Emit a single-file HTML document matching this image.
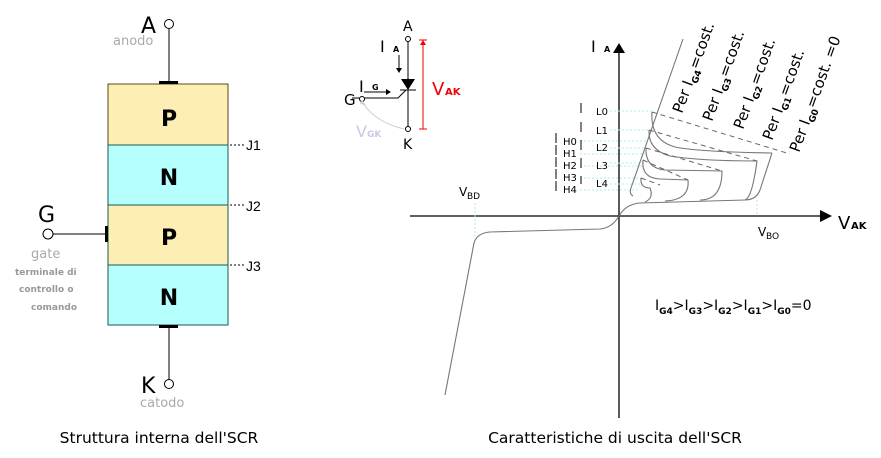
<!DOCTYPE html>
<html><head><meta charset="utf-8"><style>
html,body{margin:0;padding:0;background:#fff;}
svg{display:block;font-family:"DejaVu Sans","Liberation Sans",sans-serif;}
</style></head><body>
<svg width="881" height="458" viewBox="0 0 881 458" xmlns="http://www.w3.org/2000/svg">
<!-- LEFT -->
<rect x="108" y="84" width="120" height="61" fill="#fdeeb5" stroke="#5a4a10" stroke-width="1"/>
<rect x="108" y="145" width="120" height="60" fill="#b5ffff" stroke="#1a5a4a" stroke-width="1"/>
<rect x="108" y="205" width="120" height="60" fill="#fdeeb5" stroke="#1a5a4a" stroke-width="1"/>
<rect x="108" y="265" width="120" height="60" fill="#b5ffff" stroke="#1a5a4a" stroke-width="1"/>
<g font-weight="bold" font-size="22" text-anchor="middle" fill="#000">
<text x="169" y="126">P</text><text x="169" y="185">N</text><text x="169" y="245">P</text><text x="169" y="305">N</text></g>
<line x1="169" y1="29" x2="169" y2="82" stroke="#000"/>
<rect x="159" y="81" width="19" height="3" fill="#000"/>
<circle cx="169" cy="24" r="4.5" fill="#fff" stroke="#000"/>
<text x="141" y="33" font-size="22" fill="#000">A</text>
<text x="113" y="45" font-size="13" fill="#aaa">anodo</text>
<line x1="169" y1="328" x2="169" y2="380" stroke="#000"/>
<rect x="159" y="325" width="19" height="3" fill="#000"/>
<circle cx="169" cy="384" r="4.5" fill="#fff" stroke="#000"/>
<text x="141" y="393" font-size="22" fill="#000">K</text>
<text x="140" y="407" font-size="13" fill="#aaa">catodo</text>
<line x1="53" y1="234" x2="106" y2="234" stroke="#000"/>
<rect x="105" y="226" width="3" height="16" fill="#000"/>
<circle cx="48" cy="234" r="5" fill="#fff" stroke="#000"/>
<text x="38" y="222" font-size="22" fill="#000">G</text>
<text x="31" y="258" font-size="13" fill="#aaa">gate</text>
<g font-size="9" font-weight="bold" fill="#999">
<text x="15" y="275">terminale di</text><text x="19" y="292">controllo o</text><text x="31" y="310">comando</text></g>
<g stroke="#000" stroke-dasharray="2,2"><line x1="230" y1="145" x2="245" y2="145"/><line x1="230" y1="205" x2="245" y2="205"/><line x1="230" y1="265" x2="245" y2="265"/></g>
<g font-family="Liberation Sans Narrow, Liberation Sans, sans-serif" font-size="14" fill="#000"><text x="246" y="150">J1</text><text x="246" y="211">J2</text><text x="246" y="271">J3</text></g>
<text x="159" y="443" font-size="15.5" text-anchor="middle" fill="#000">Struttura interna dell'SCR</text>
<!-- SMALL SYMBOL -->
<line x1="408" y1="40" x2="408" y2="128" stroke="#000"/>
<circle cx="408" cy="39" r="2.5" fill="#fff" stroke="#000"/>
<circle cx="408" cy="129" r="2.5" fill="#fff" stroke="#000"/>
<polygon points="401,79 415,79 408,90" fill="#000"/><line x1="400" y1="90" x2="416" y2="90" stroke="#000"/>
<polyline points="352,98 398,98 406,90" fill="none" stroke="#000"/>
<circle cx="362" cy="99" r="2.5" fill="#fff" stroke="#000"/>
<text x="344" y="105" font-size="15" fill="#000">G</text>
<text x="403" y="31" font-size="14" fill="#000">A</text>
<text x="403" y="149" font-size="14" fill="#000">K</text>
<line x1="399" y1="55" x2="399" y2="70" stroke="#000"/><polygon points="396,68 402,68 399,73" fill="#000"/>
<text x="380" y="52" font-size="16" fill="#000">I</text><text x="393" y="52" font-size="8" font-weight="bold">A</text>
<line x1="364" y1="92" x2="388" y2="92" stroke="#000"/><polygon points="386,89 391,92 386,95" fill="#000"/>
<text x="359" y="92" font-size="16" fill="#000">I</text><text x="372" y="90" font-size="8" font-weight="bold">G</text>
<line x1="423" y1="40" x2="423" y2="129" stroke="#e00"/><line x1="419" y1="129" x2="427" y2="129" stroke="#e00"/><line x1="419" y1="40" x2="427" y2="40" stroke="#e00"/>
<polygon points="420,45 426,45 423,40" fill="#e00"/>
<text x="432" y="95" font-size="18" fill="#e00">V</text><text x="445" y="95" font-size="10" font-weight="bold" fill="#e00">AK</text>
<path d="M404,129 Q375,122 363,103" fill="none" stroke="#ccd" stroke-width="1"/>
<polygon points="360,104 366,105 362,100" fill="#ccd"/>
<text x="356" y="137" font-size="16" fill="#c8c8e8">V</text><text x="367" y="137" font-size="9" font-weight="bold" fill="#c8c8e8">GK</text>
<!-- AXES -->
<line x1="410" y1="216" x2="822" y2="216" stroke="#000" stroke-width="1.3"/>
<polygon points="820,210 832,216 820,222" fill="#000"/>
<line x1="619" y1="418" x2="619" y2="50" stroke="#000" stroke-width="1.3"/>
<polygon points="613,53 619,43 625,53" fill="#000"/>
<text x="591" y="52" font-size="16">I</text><text x="604" y="52" font-size="8" font-weight="bold">A</text>
<text x="838" y="229" font-size="18">V</text><text x="851" y="229" font-size="10" font-weight="bold">AK</text>
<text x="459" y="196" font-size="12">V</text><text x="467" y="199" font-size="9">BD</text>
<text x="758" y="236" font-size="12">V</text><text x="766" y="239" font-size="9">BO</text>
<!-- cyan dashed -->
<g stroke="#aee" stroke-dasharray="2,2" stroke-width="1">
<line x1="475" y1="203" x2="475" y2="236"/><line x1="757" y1="200" x2="757" y2="216"/>
<line x1="610" y1="111" x2="652" y2="111"/><line x1="610" y1="130" x2="649" y2="130"/>
<line x1="580" y1="141" x2="647" y2="141"/><line x1="610" y1="148" x2="646" y2="148"/>
<line x1="580" y1="154" x2="645" y2="154"/><line x1="580" y1="166" x2="643" y2="166"/>
<line x1="610" y1="163" x2="644" y2="163"/><line x1="580" y1="178" x2="642" y2="178"/>
<line x1="610" y1="184" x2="641" y2="184"/><line x1="580" y1="190" x2="640" y2="190"/>
</g>
<g font-size="10" fill="#000"><text x="596" y="115">L0</text><text x="596" y="134">L1</text><text x="596" y="151">L2</text><text x="596" y="169">L3</text><text x="596" y="187">L4</text>
<text x="563" y="145">H0</text><text x="563" y="157">H1</text><text x="563" y="169">H2</text><text x="563" y="181">H3</text><text x="563" y="193">H4</text></g>
<g stroke="#000"><line x1="581" y1="103" x2="581" y2="113"/><line x1="581" y1="122" x2="581" y2="132"/><line x1="581" y1="140" x2="581" y2="150"/><line x1="581" y1="158" x2="581" y2="168"/><line x1="581" y1="176" x2="581" y2="184"/>
<line x1="556" y1="133" x2="556" y2="143"/><line x1="556" y1="145" x2="556" y2="155"/><line x1="556" y1="157" x2="556" y2="167"/><line x1="556" y1="169" x2="556" y2="179"/><line x1="556" y1="181" x2="556" y2="191"/></g>
<!-- curves -->
<g fill="none" stroke="#777" stroke-width="1.1">
<path d="M683,39 L631,188 Q629,194 633,196"/>
<path d="M445,395 L474,243 Q477,233 490,232 L600,229 Q612,228 619,216 Q626,204 640,203 L745,200 Q756,200 760,190 L772,153"/>
<path d="M652,112 Q650,140 675,147 Q700,152 772,153"/>
<path d="M649,130 Q648,150 670,156 Q700,161 757,161 Q752,198 745,200"/>
<path d="M646,148 Q645,168 665,170 L722,171 Q722,200 700,200"/>
<path d="M643,160 Q641,178 660,179 L688,180 Q690,200 665,201"/>
<path d="M641,178 Q640,188 650,188 Q654,198 645,202"/>
</g>
<g stroke="#666" stroke-dasharray="5,4" fill="none">
<line x1="652" y1="112" x2="790" y2="154"/><line x1="649" y1="130" x2="757" y2="161"/><line x1="646" y1="148" x2="722" y2="171"/><line x1="643" y1="160" x2="688" y2="180"/><line x1="641" y1="178" x2="660" y2="185"/>
</g>
<g font-size="15" fill="#000">
<text transform="translate(682,114) rotate(-70)">Per I<tspan font-size="9" font-weight="bold" dy="4">G4</tspan><tspan dy="-4">=cost.</tspan></text>
<text transform="translate(712,122) rotate(-70)">Per I<tspan font-size="9" font-weight="bold" dy="4">G3</tspan><tspan dy="-4">=cost.</tspan></text>
<text transform="translate(743,130) rotate(-70)">Per I<tspan font-size="9" font-weight="bold" dy="4">G2</tspan><tspan dy="-4">=cost.</tspan></text>
<text transform="translate(772,141) rotate(-70)">Per I<tspan font-size="9" font-weight="bold" dy="4">G1</tspan><tspan dy="-4">=cost.</tspan></text>
<text transform="translate(799,153) rotate(-70)">Per I<tspan font-size="9" font-weight="bold" dy="4">G0</tspan><tspan dy="-4">=cost. =0</tspan></text>
</g>
<text x="655" y="310" font-size="14">I<tspan font-size="9" font-weight="bold" dy="4">G4</tspan><tspan dy="-4">&gt;I</tspan><tspan font-size="9" font-weight="bold" dy="4">G3</tspan><tspan dy="-4">&gt;I</tspan><tspan font-size="9" font-weight="bold" dy="4">G2</tspan><tspan dy="-4">&gt;I</tspan><tspan font-size="9" font-weight="bold" dy="4">G1</tspan><tspan dy="-4">&gt;I</tspan><tspan font-size="9" font-weight="bold" dy="4">G0</tspan><tspan dy="-4">=0</tspan></text>
<text x="615" y="443" font-size="15.5" text-anchor="middle">Caratteristiche di uscita dell'SCR</text>
</svg>
</body></html>
